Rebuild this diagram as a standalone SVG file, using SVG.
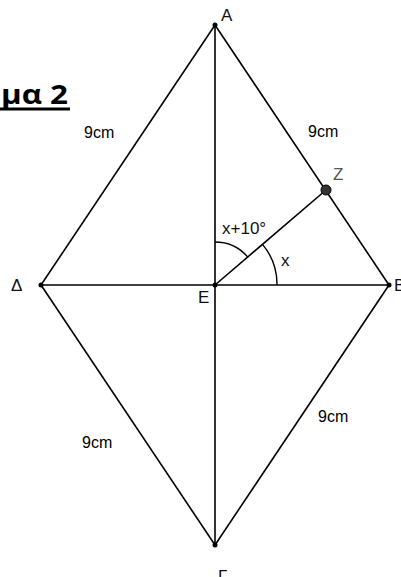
<svg xmlns="http://www.w3.org/2000/svg" width="401" height="577" viewBox="0 0 401 577">
<style>
.e{stroke:#000;stroke-width:1.6;fill:none}
.arc{stroke:#000;stroke-width:1.4;fill:none}
.lbl{font-family:"Liberation Sans",Arial,sans-serif;font-size:17px;fill:#111}
.len{font-family:"Liberation Sans",Arial,sans-serif;font-size:16px;fill:#000}
.pt{fill:#000}
</style>
<rect width="401" height="577" fill="#fff"/>
<g id="title">
<text x="1" y="104" textLength="67" lengthAdjust="spacingAndGlyphs" font-family="'Open Sans','Liberation Sans',sans-serif" font-weight="bold" font-size="26" fill="#000">μα 2</text>
<rect x="0" y="107.5" width="70" height="3" fill="#000"/>
</g>
<g id="connectors">
<line class="e" x1="215" y1="25" x2="41" y2="285"/>
<line class="e" x1="215" y1="25" x2="389" y2="285"/>
<line class="e" x1="41" y1="285" x2="215" y2="545"/>
<line class="e" x1="389" y1="285" x2="215" y2="545"/>
<line class="e" x1="215" y1="25" x2="215" y2="545"/>
<line class="e" x1="41" y1="285" x2="389" y2="285" stroke-width="2"/>
<line class="e" x1="215" y1="285" x2="326" y2="190"/>
<path class="arc" d="M215,242 A43,43 0 0 1 248,257.4"/>
<path class="arc" d="M262.5,244.4 A62,62 0 0 1 277,285"/>
</g>
<g id="A"><circle class="pt" cx="215" cy="25" r="2.5"/><text class="lbl" x="221" y="21">Α</text></g>
<g id="Delta"><circle class="pt" cx="41" cy="285" r="2.5"/><text class="lbl" x="11" y="291">Δ</text></g>
<g id="B"><circle class="pt" cx="389" cy="285" r="2.5"/><text class="lbl" x="394" y="291">Β</text></g>
<g id="Gamma"><circle class="pt" cx="215" cy="545" r="2.5"/><text class="lbl" x="218" y="582">Γ</text></g>
<g id="E"><circle class="pt" cx="215" cy="285" r="2.5"/><text class="lbl" x="198" y="303">Ε</text></g>
<g id="Z"><circle cx="326" cy="190" r="5" fill="#333" stroke="#000" stroke-width="1"/><text class="lbl" x="333" y="180" style="fill:#555">Ζ</text></g>
<g id="labels">
<text class="len" x="84" y="138">9cm</text>
<text class="len" x="308" y="137">9cm</text>
<text class="len" x="318" y="422">9cm</text>
<text class="len" x="82" y="448">9cm</text>
<text class="lbl" x="222" y="234">x+10°</text>
<text class="lbl" x="281" y="266">x</text>
</g>
</svg>
